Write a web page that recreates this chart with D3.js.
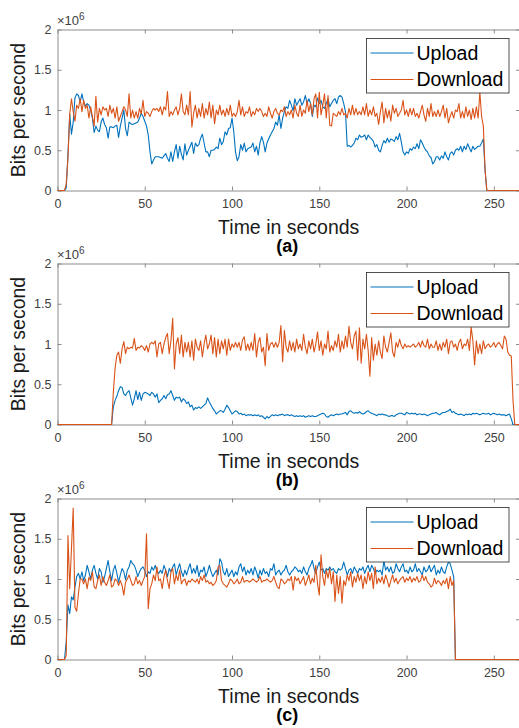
<!DOCTYPE html>
<html>
<head>
<meta charset="utf-8">
<script src="https://cdn.jsdelivr.net/npm/d3@7/dist/d3.min.js"></script>
<style>
  body { margin: 0; background: #fff; }
  svg { display: block; }
</style>
</head>
<body>
<div id="chart"></div>
<script>
// throughput in 10^6 bits per second, one sample per second starting at t = 0
var uploadA = [
  0, 0, 0, 0, 0, 0.03, 0.45, 0.95, 0.70, 0.85,
  1.15, 1.20, 1.18, 1.10, 1.20, 1.10, 1.05, 1.08, 1.06, 1.00,
  0.90, 0.72, 0.80, 0.75, 0.73, 0.85, 0.90, 0.82, 0.78, 0.65,
  0.79, 0.79, 0.78, 0.80, 0.81, 0.66, 0.80, 0.90, 1.00, 0.77,
  0.68, 0.85, 0.83, 0.82, 0.83, 0.84, 0.85, 0.90, 0.96, 0.92,
  0.86, 0.80, 0.69, 0.48, 0.33, 0.38, 0.42, 0.42, 0.42, 0.41,
  0.40, 0.43, 0.46, 0.40, 0.36, 0.48, 0.36, 0.48, 0.57, 0.40,
  0.55, 0.45, 0.38, 0.58, 0.44, 0.50, 0.55, 0.60, 0.46, 0.59,
  0.55, 0.57, 0.65, 0.70, 0.59, 0.48, 0.48, 0.42, 0.50, 0.50,
  0.51, 0.54, 0.52, 0.65, 0.57, 0.61, 0.73, 0.69, 0.77, 0.78,
  0.90, 0.73, 0.48, 0.37, 0.42, 0.57, 0.50, 0.59, 0.48, 0.52,
  0.53, 0.54, 0.59, 0.48, 0.55, 0.44, 0.59, 0.67, 0.60, 0.48,
  0.59, 0.64, 0.69, 0.73, 0.77, 0.85, 0.81, 0.94, 0.77, 0.90,
  0.98, 1.04, 1.02, 1.12, 1.06, 0.99, 1.14, 1.06, 1.10, 1.14,
  1.06, 1.10, 1.18, 1.08, 1.14, 1.08, 0.92, 1.06, 1.04, 1.15,
  1.08, 1.12, 1.04, 1.02, 1.08, 1.14, 1.04, 1.08, 1.12, 1.14,
  1.08, 1.16, 1.18, 1.16, 1.08, 0.98, 0.55, 0.56, 0.54, 0.56,
  0.59, 0.65, 0.63, 0.69, 0.66, 0.67, 0.69, 0.63, 0.69, 0.66,
  0.64, 0.61, 0.54, 0.57, 0.50, 0.48, 0.56, 0.62, 0.59, 0.65,
  0.60, 0.64, 0.63, 0.61, 0.67, 0.63, 0.71, 0.60, 0.48, 0.44,
  0.48, 0.46, 0.52, 0.50, 0.54, 0.52, 0.58, 0.52, 0.63, 0.59,
  0.54, 0.50, 0.48, 0.43, 0.41, 0.33, 0.36, 0.42, 0.42, 0.38,
  0.43, 0.40, 0.48, 0.42, 0.38, 0.46, 0.48, 0.44, 0.50, 0.52,
  0.50, 0.55, 0.48, 0.55, 0.51, 0.58, 0.53, 0.48, 0.55, 0.51,
  0.53, 0.55, 0.55, 0.59, 0.64, 0.25, 0, 0, 0, 0,
  0, 0, 0, 0, 0, 0, 0, 0, 0, 0,
  0, 0, 0, 0, 0, 0
];

var downloadA = [
  0, 0, 0, 0, 0, 0.08, 0.40, 0.95, 1.14, 0.98,
  0.86, 1.06, 1.02, 1.14, 0.98, 1.12, 1.02, 1.06, 0.90, 1.04,
  0.92, 0.80, 1.17, 0.85, 1.02, 0.94, 1.04, 1.00, 1.02, 0.92,
  1.06, 0.96, 1.02, 0.90, 1.04, 0.86, 0.92, 0.98, 1.04, 1.00,
  0.92, 1.20, 0.90, 1.00, 0.90, 0.98, 0.90, 1.02, 0.95, 1.12,
  0.92, 0.98, 0.96, 0.92, 0.98, 1.02, 1.00, 1.02, 0.98, 1.04,
  0.94, 1.04, 1.00, 1.23, 0.92, 0.98, 0.94, 1.00, 1.04, 0.94,
  1.02, 1.20, 0.98, 0.94, 1.06, 0.94, 1.23, 0.79, 0.96, 1.06,
  0.90, 1.02, 0.92, 1.08, 0.90, 1.02, 0.94, 1.10, 0.90, 1.06,
  0.83, 1.00, 0.94, 1.06, 0.94, 1.00, 0.92, 1.02, 0.94, 1.06,
  0.92, 0.96, 0.92, 0.98, 1.12, 0.94, 1.04, 0.92, 0.98, 0.96,
  1.04, 0.92, 0.98, 0.94, 1.02, 0.98, 1.02, 0.98, 0.92, 0.96,
  0.92, 1.04, 0.96, 0.90, 0.98, 1.02, 0.96, 0.94, 1.00, 0.98,
  1.04, 0.92, 0.98, 0.94, 1.00, 0.90, 1.06, 0.96, 0.92, 1.06,
  0.92, 1.00, 0.96, 1.12, 0.98, 1.08, 0.94, 1.14, 1.20, 0.90,
  1.22, 0.94, 1.06, 1.20, 0.90, 1.18, 0.81, 0.80, 0.96, 0.94,
  0.92, 0.98, 0.94, 1.02, 0.94, 0.96, 0.90, 1.02, 0.94, 1.06,
  0.94, 1.02, 0.94, 0.98, 0.94, 1.04, 0.94, 1.08, 0.92, 1.00,
  0.94, 1.04, 0.92, 0.96, 0.82, 0.98, 1.10, 0.84, 1.02, 0.90,
  1.00, 0.86, 1.06, 0.96, 1.02, 0.92, 0.96, 1.00, 1.12, 0.94,
  1.00, 0.92, 1.02, 0.94, 1.02, 0.92, 0.96, 0.90, 0.98, 1.06,
  0.94, 0.86, 1.02, 0.92, 1.08, 0.92, 0.98, 0.92, 1.00, 0.92,
  0.98, 1.06, 0.90, 1.02, 0.84, 0.92, 0.98, 0.90, 1.00, 0.98,
  1.08, 0.90, 0.98, 0.90, 1.04, 0.92, 1.00, 0.88, 1.02, 0.90,
  1.04, 0.90, 1.22, 0.92, 0.80, 0.25, 0, 0, 0, 0,
  0, 0, 0, 0, 0, 0, 0, 0, 0, 0,
  0, 0, 0, 0, 0, 0
];

var uploadB = [
  0, 0, 0, 0, 0, 0, 0, 0, 0, 0,
  0, 0, 0, 0, 0, 0, 0, 0, 0, 0,
  0, 0, 0, 0, 0, 0, 0, 0, 0, 0,
  0, 0, 0.22, 0.30, 0.35, 0.42, 0.47, 0.46, 0.38, 0.36,
  0.40, 0.42, 0.33, 0.24, 0.32, 0.42, 0.31, 0.40, 0.30, 0.38,
  0.40, 0.39, 0.38, 0.36, 0.40, 0.38, 0.34, 0.38, 0.27, 0.30,
  0.32, 0.36, 0.32, 0.37, 0.38, 0.42, 0.36, 0.30, 0.34, 0.33,
  0.34, 0.28, 0.32, 0.30, 0.26, 0.28, 0.22, 0.24, 0.18, 0.21,
  0.20, 0.22, 0.20, 0.22, 0.24, 0.26, 0.33, 0.28, 0.24, 0.20,
  0.17, 0.13, 0.15, 0.17, 0.17, 0.15, 0.19, 0.24, 0.21, 0.17,
  0.13, 0.15, 0.17, 0.16, 0.13, 0.14, 0.12, 0.13, 0.11, 0.12,
  0.12, 0.12, 0.11, 0.12, 0.11, 0.12, 0.10, 0.11, 0.09, 0.07,
  0.10, 0.08, 0.10, 0.12, 0.11, 0.12, 0.11, 0.12, 0.12, 0.13,
  0.11, 0.12, 0.12, 0.11, 0.12, 0.11, 0.10, 0.11, 0.10, 0.11,
  0.10, 0.11, 0.09, 0.10, 0.11, 0.10, 0.11, 0.10, 0.10, 0.11,
  0.12, 0.13, 0.14, 0.13, 0.10, 0.09, 0.11, 0.12, 0.11, 0.12,
  0.13, 0.12, 0.13, 0.13, 0.14, 0.15, 0.12, 0.16, 0.17, 0.15,
  0.14, 0.15, 0.14, 0.16, 0.14, 0.13, 0.14, 0.16, 0.17, 0.15,
  0.14, 0.13, 0.12, 0.11, 0.13, 0.12, 0.13, 0.12, 0.12, 0.11,
  0.10, 0.11, 0.11, 0.10, 0.12, 0.13, 0.14, 0.14, 0.13, 0.12,
  0.15, 0.14, 0.13, 0.14, 0.13, 0.14, 0.12, 0.13, 0.13, 0.12,
  0.13, 0.12, 0.11, 0.12, 0.13, 0.14, 0.14, 0.15, 0.13, 0.12,
  0.14, 0.15, 0.15, 0.16, 0.17, 0.19, 0.15, 0.16, 0.14, 0.13,
  0.12, 0.13, 0.12, 0.11, 0.13, 0.12, 0.13, 0.12, 0.14, 0.13,
  0.14, 0.13, 0.12, 0.13, 0.14, 0.13, 0.13, 0.14, 0.12, 0.13,
  0.14, 0.13, 0.12, 0.13, 0.12, 0.12, 0.12, 0.11, 0.12, 0.13,
  0.07, 0, 0, 0, 0, 0
];

var downloadB = [
  0, 0, 0, 0, 0, 0, 0, 0, 0, 0,
  0, 0, 0, 0, 0, 0, 0, 0, 0, 0,
  0, 0, 0, 0, 0, 0, 0, 0, 0, 0,
  0, 0, 0.40, 0.70, 0.86, 0.90, 0.76, 0.94, 1.03, 0.88,
  0.96, 0.94, 0.96, 0.95, 1.07, 0.92, 0.96, 0.95, 0.98, 0.96,
  0.92, 0.98, 0.90, 1.00, 1.02, 1.00, 1.04, 0.84, 1.00, 1.02,
  0.88, 1.00, 1.08, 1.13, 0.88, 1.04, 1.32, 0.69, 1.00, 1.08,
  0.88, 1.11, 0.84, 1.02, 0.90, 1.02, 0.84, 1.04, 0.80, 1.06,
  0.96, 0.92, 1.04, 0.84, 1.00, 1.11, 0.94, 1.00, 1.11, 0.88,
  1.08, 0.84, 1.06, 0.88, 1.04, 0.94, 1.06, 0.86, 1.06, 0.92,
  1.00, 0.96, 1.02, 0.96, 1.02, 0.92, 1.05, 1.09, 0.92, 1.00,
  0.92, 1.02, 0.92, 1.13, 0.84, 1.02, 1.08, 0.90, 0.96, 0.73,
  1.13, 0.92, 1.00, 1.02, 0.96, 1.02, 0.96, 1.02, 1.23, 0.78,
  1.17, 0.96, 0.90, 1.04, 0.92, 1.02, 0.90, 1.06, 0.94, 1.00,
  0.92, 1.12, 0.96, 0.88, 1.04, 0.94, 1.06, 0.90, 1.00, 1.15,
  0.92, 1.04, 0.86, 1.00, 0.94, 1.16, 0.90, 0.98, 0.92, 1.04,
  0.96, 1.12, 0.90, 1.04, 0.94, 1.10, 0.96, 1.22, 1.02, 0.94,
  1.10, 1.16, 0.80, 1.20, 0.76, 1.06, 0.94, 1.12, 0.92, 0.60,
  1.08, 0.80, 1.00, 0.86, 1.04, 0.90, 0.82, 1.10, 0.96, 0.90,
  1.02, 1.14, 0.90, 0.84, 1.02, 0.96, 1.06, 0.98, 0.94, 1.00,
  0.96, 0.98, 0.96, 0.98, 1.00, 0.96, 0.98, 1.02, 0.96, 1.04,
  0.98, 0.96, 1.06, 0.94, 1.00, 0.96, 0.96, 1.04, 0.92, 1.00,
  0.92, 1.02, 0.96, 1.06, 0.88, 1.02, 1.04, 0.96, 1.00, 0.92,
  1.02, 1.06, 0.94, 1.00, 0.98, 1.06, 0.92, 1.21, 1.04, 0.74,
  1.04, 0.88, 1.00, 0.88, 1.04, 0.94, 0.98, 1.00, 0.96, 0.98,
  1.02, 0.96, 1.00, 1.02, 0.98, 0.94, 1.10, 1.06, 0.90, 0.86,
  0.85, 0.30, 0, 0, 0, 0
];

var uploadC = [
  0, 0, 0, 0, 0, 0.22, 0.68, 0.57, 0.78, 0.74,
  0.90, 1.03, 1.07, 1.00, 1.09, 0.98, 1.05, 1.17, 1.09, 1.00,
  1.11, 1.17, 1.07, 1.00, 1.13, 1.09, 0.96, 1.03, 1.13, 1.23,
  1.09, 0.98, 1.11, 1.17, 1.07, 0.96, 1.05, 1.13, 1.09, 0.99,
  1.11, 1.15, 1.23, 1.19, 1.17, 1.11, 1.03, 1.09, 1.13, 1.15,
  1.11, 1.03, 1.09, 1.07, 1.15, 1.11, 1.17, 1.09, 1.07, 1.11,
  1.07, 1.17, 1.11, 1.03, 1.13, 1.09, 1.15, 1.19, 1.05, 1.13,
  1.19, 1.09, 1.03, 1.11, 1.05, 1.13, 1.19, 1.07, 1.13, 1.07,
  1.17, 1.03, 1.11, 1.09, 1.15, 1.03, 1.09, 1.17, 1.09, 1.03,
  1.07, 1.11, 1.05, 1.25, 1.21, 1.09, 1.05, 1.13, 1.03, 1.07,
  1.11, 1.03, 1.09, 1.05, 1.15, 1.19, 1.09, 1.15, 1.05, 1.11,
  1.07, 1.13, 1.05, 1.15, 1.09, 1.01, 1.11, 1.05, 1.13, 1.07,
  1.09, 1.03, 1.13, 1.11, 1.19, 1.05, 1.09, 1.11, 1.05, 1.09,
  1.11, 1.17, 1.09, 1.05, 1.09, 1.11, 1.15, 1.13, 1.09, 1.11,
  1.07, 1.15, 1.09, 1.05, 1.13, 1.17, 1.23, 1.13, 1.07, 1.15,
  1.21, 1.11, 1.13, 1.07, 1.13, 1.11, 1.15, 1.11, 1.13, 1.09,
  1.07, 1.13, 1.11, 1.13, 1.21, 1.13, 1.05, 1.11, 1.13, 1.07,
  1.15, 1.11, 1.07, 1.13, 1.11, 1.15, 1.07, 1.13, 1.17, 1.09,
  1.17, 1.13, 1.07, 1.11, 1.09, 1.11, 1.05, 1.23, 1.11, 1.15,
  1.09, 1.15, 1.07, 1.09, 1.19, 1.13, 1.09, 1.15, 1.19, 1.09,
  1.11, 1.07, 1.15, 1.09, 1.11, 1.19, 1.09, 1.13, 1.09, 1.05,
  1.15, 1.09, 1.11, 1.17, 1.09, 1.13, 1.17, 1.05, 1.11, 1.07,
  1.15, 1.09, 1.07, 1.15, 1.21, 1.19, 1.11, 1.03, 0, 0,
  0, 0, 0, 0, 0, 0, 0, 0, 0, 0,
  0, 0, 0, 0, 0, 0, 0, 0, 0, 0,
  0, 0, 0, 0, 0, 0, 0, 0, 0, 0,
  0, 0, 0, 0, 0, 0
];

var downloadC = [
  0, 0, 0, 0, 0, 0.05, 1.54, 0.88, 1.38, 1.88,
  0.65, 0.60, 0.82, 1.00, 1.00, 0.94, 1.00, 0.88, 1.02, 0.98,
  1.09, 0.90, 0.88, 0.98, 1.05, 0.92, 1.03, 0.96, 0.92, 0.98,
  1.05, 0.90, 0.92, 1.00, 0.98, 0.92, 0.98, 0.92, 0.80, 0.96,
  1.00, 1.05, 0.98, 0.92, 0.94, 1.03, 0.94, 0.98, 0.92, 0.98,
  1.03, 1.56, 0.63, 0.88, 0.94, 1.05, 0.98, 1.15, 0.98, 1.00,
  0.88, 1.03, 1.11, 0.98, 0.88, 1.09, 1.13, 0.94, 1.05, 0.98,
  1.11, 0.94, 0.98, 1.00, 0.92, 0.98, 0.96, 1.00, 0.98, 0.96,
  1.00, 0.94, 1.03, 0.98, 1.05, 0.96, 0.98, 0.94, 0.96, 0.92,
  0.94, 0.98, 1.15, 1.17, 0.98, 0.94, 0.92, 0.90, 0.94, 1.00,
  0.98, 0.94, 0.96, 1.00, 0.94, 0.96, 1.03, 0.96, 0.98, 0.98,
  0.96, 0.98, 1.00, 0.98, 0.96, 0.98, 1.03, 0.96, 0.98, 0.98,
  1.00, 0.98, 0.96, 0.98, 1.03, 0.96, 0.90, 0.88, 1.00, 0.98,
  0.94, 0.96, 1.00, 0.98, 1.03, 0.86, 1.03, 0.98, 1.01, 0.94,
  0.98, 1.03, 0.92, 0.98, 1.05, 0.94, 1.01, 0.96, 1.17, 0.94,
  0.80, 1.30, 1.03, 0.92, 1.11, 1.01, 1.13, 0.94, 1.09, 0.72,
  1.05, 0.82, 1.03, 0.70, 0.98, 0.92, 1.05, 0.98, 1.09, 0.90,
  1.03, 0.96, 1.07, 0.98, 1.05, 0.88, 1.03, 0.94, 1.09, 0.98,
  1.07, 0.88, 1.15, 0.94, 1.01, 0.96, 1.03, 0.94, 1.05, 0.98,
  0.90, 0.98, 1.05, 0.96, 1.01, 0.94, 0.98, 1.01, 1.03, 0.96,
  1.01, 0.98, 1.03, 0.96, 1.01, 0.98, 1.03, 0.96, 0.98, 1.05,
  0.98, 1.03, 0.96, 0.94, 0.90, 0.92, 1.01, 0.94, 0.98, 0.96,
  0.92, 0.98, 0.94, 1.01, 0.88, 1.03, 0.92, 0.98, 0, 0,
  0, 0, 0, 0, 0, 0, 0, 0, 0, 0,
  0, 0, 0, 0, 0, 0, 0, 0, 0, 0,
  0, 0, 0, 0, 0, 0, 0, 0, 0, 0,
  0, 0, 0, 0, 0, 0
];

var seriesNames = ['Upload', 'Download'];
var panelLabels = ['(a)', '(b)', '(c)'];
var xTicks = [0, 50, 100, 150, 200, 250];
var yTicks = [0, 0.5, 1, 1.5, 2];

function TrafficChart(params) {

  var attrs = Object.assign({
    container: 'body',
    width: 519,
    height: 728,
    panelTops: [29.5, 263.5, 498.5],
    panelHeight: 161,
    plotLeft: 57.5,
    plotRight: 520,
    xMax: 265,
    yMax: 2,
    colors: ['#0072BD', '#D95319'],
    font: '"Liberation Sans", Arial, Helvetica, sans-serif',
    panels: []
  }, params);

  var viz = {
    container: d3.select(attrs.container),
    svg: null
  };

  var x;

  function main() {
    viz.svg = viz.container.append('svg')
      .attr('width', attrs.width)
      .attr('height', attrs.height)
      .style('font-family', attrs.font);

    viz.svg.append('rect')
      .attr('width', attrs.width)
      .attr('height', attrs.height)
      .attr('fill', '#fff');

    x = d3.scaleLinear()
      .domain([0, attrs.xMax])
      .range([attrs.plotLeft, attrs.plotRight]);

    attrs.panels.forEach(drawPanel);
  }

  function styleAxis(g) {
    g.attr('font-family', null).attr('font-size', null);
    g.select('.domain').attr('stroke', '#8c8c8c');
    g.selectAll('.tick line').attr('stroke', '#8c8c8c');
    g.selectAll('.tick text')
      .attr('fill', '#404040')
      .style('font-size', '12.5px');
  }

  function drawPanel(panel, i) {
    var top = attrs.panelTops[i],
      bottom = top + attrs.panelHeight,
      midX = (attrs.plotLeft + attrs.plotRight) / 2;

    var y = d3.scaleLinear()
      .domain([0, attrs.yMax])
      .range([bottom, top]);

    var g = viz.svg.append('g').attr('class', 'panel panel-' + i);

    // box with inward ticks on all four sides
    g.append('g')
      .attr('transform', 'translate(0,' + bottom + ')')
      .call(d3.axisBottom(x).tickValues(xTicks).tickSizeInner(-4).tickSizeOuter(0).tickPadding(8.5))
      .call(styleAxis);

    g.append('g')
      .attr('transform', 'translate(0,' + top + ')')
      .call(d3.axisTop(x).tickValues(xTicks).tickSizeInner(-4).tickSizeOuter(0).tickFormat(''))
      .call(styleAxis);

    g.append('g')
      .attr('transform', 'translate(' + attrs.plotLeft + ',0)')
      .call(d3.axisLeft(y).tickValues(yTicks).tickSizeInner(-4).tickSizeOuter(0).tickPadding(6)
        .tickFormat(function (d) { return String(d); }))
      .call(styleAxis);

    g.append('g')
      .attr('transform', 'translate(' + attrs.plotRight + ',0)')
      .call(d3.axisRight(y).tickValues(yTicks).tickSizeInner(-4).tickSizeOuter(0).tickFormat(''))
      .call(styleAxis);

    // exponent note
    var expo = g.append('text')
      .attr('x', attrs.plotLeft - 0.5)
      .attr('y', top - 4.5)
      .attr('fill', '#404040')
      .style('font-size', '13px');
    expo.append('tspan').text('\u00d710');
    expo.append('tspan').attr('dy', -5.5).style('font-size', '10px').text('6');

    // lines: upload first, download drawn on top
    var line = d3.line()
      .x(function (d) { return x(d.t); })
      .y(function (d) { return y(d.v); });

    [panel.upload, panel.download].forEach(function (values, k) {
      var pts = values.map(function (v, t) { return { t: t, v: v }; });
      g.append('path')
        .datum(pts)
        .attr('fill', 'none')
        .attr('stroke', attrs.colors[k])
        .attr('stroke-width', 1.1)
        .attr('stroke-linejoin', 'round')
        .attr('d', line);
    });

    // axis labels
    g.append('text')
      .attr('transform', 'translate(24.5,' + ((top + bottom) / 2) + ') rotate(-90)')
      .attr('text-anchor', 'middle')
      .attr('fill', '#1a1a1a')
      .style('font-size', '19.5px')
      .text('Bits per second');

    g.append('text')
      .attr('x', midX)
      .attr('y', bottom + 43)
      .attr('text-anchor', 'middle')
      .attr('fill', '#1a1a1a')
      .style('font-size', '19.5px')
      .text('Time in seconds');

    g.append('text')
      .attr('x', midX - 1.5)
      .attr('y', bottom + 61.5)
      .attr('text-anchor', 'middle')
      .attr('fill', '#000')
      .style('font-size', '18px')
      .style('font-weight', 'bold')
      .text(panelLabels[i]);

    // legend
    var lg = g.append('g').attr('transform', 'translate(366.5,' + (top + 9) + ')');
    lg.append('rect')
      .attr('width', 142.5)
      .attr('height', 54.5)
      .attr('fill', '#fff')
      .attr('stroke', '#262626')
      .attr('stroke-width', 0.8);

    seriesNames.forEach(function (name, k) {
      var ly = 14.5 + k * 26.5;
      lg.append('line')
        .attr('x1', 4).attr('x2', 47)
        .attr('y1', ly).attr('y2', ly)
        .attr('stroke', attrs.colors[k])
        .attr('stroke-width', 1.1);
      lg.append('text')
        .attr('x', 50)
        .attr('y', ly)
        .attr('dy', '0.35em')
        .attr('fill', '#000')
        .style('font-size', '19.5px')
        .text(name);
    });
  }

  main.render = function () {
    main();
    return main;
  };

  return main;
}

TrafficChart({
  container: '#chart',
  panels: [
    { upload: uploadA, download: downloadA },
    { upload: uploadB, download: downloadB },
    { upload: uploadC, download: downloadC }
  ]
}).render();
</script>
</body>
</html>
